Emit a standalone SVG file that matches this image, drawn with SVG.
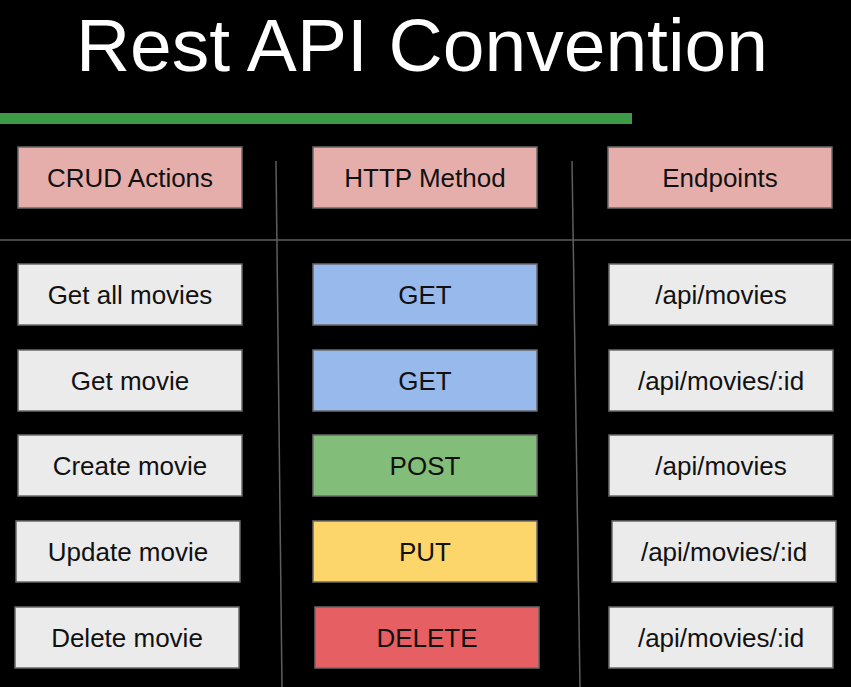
<svg xmlns="http://www.w3.org/2000/svg" width="851" height="687" viewBox="0 0 851 687">
<style>
.bx{stroke:#6a6a6a;stroke-width:1.5}
.hd{fill:#e6aeaa}
.lt{fill:#ebebeb}
.get{fill:#97b9ec}
.post{fill:#82bd79}
.put{fill:#fcd66a}
.del{fill:#e65f63}
.t{font-family:"Liberation Sans",Arial,sans-serif;font-size:26px;fill:#111;text-anchor:middle}
.ln{stroke:#5e5e5e;stroke-width:1.5;fill:none}
</style>
<rect width="851" height="687" fill="#000"/>
<text x="422" y="71" font-family="'Liberation Sans',Arial,sans-serif" font-size="75" fill="#fff" text-anchor="middle">Rest API Convention</text>
<rect x="0" y="113" width="632" height="11" fill="#3d9a47"/>
<g id="connectors">
<line class="ln" x1="0" y1="240" x2="851" y2="240"/>
<line class="ln" x1="276" y1="161" x2="282" y2="687"/>
<line class="ln" x1="572" y1="161" x2="580" y2="687"/>
</g>
<g id="h-crud"><rect class="bx hd" x="18" y="147" width="224" height="61"/><text class="t" x="130" y="187">CRUD Actions</text></g>
<g id="h-http"><rect class="bx hd" x="313" y="147" width="224" height="61"/><text class="t" x="425" y="187">HTTP Method</text></g>
<g id="h-end"><rect class="bx hd" x="608" y="147" width="224" height="61"/><text class="t" x="720" y="187">Endpoints</text></g>

<g id="a1"><rect class="bx lt" x="18" y="264" width="224" height="61"/><text class="t" x="130" y="304">Get all movies</text></g>
<g id="a2"><rect class="bx lt" x="18" y="350" width="224" height="61"/><text class="t" x="130" y="390">Get movie</text></g>
<g id="a3"><rect class="bx lt" x="18" y="435" width="224" height="61"/><text class="t" x="130" y="475">Create movie</text></g>
<g id="a4"><rect class="bx lt" x="16" y="521" width="224" height="61"/><text class="t" x="128" y="561">Update movie</text></g>
<g id="a5"><rect class="bx lt" x="15" y="607" width="224" height="61"/><text class="t" x="127" y="647">Delete movie</text></g>

<g id="m1"><rect class="bx get" x="313" y="264" width="224" height="61"/><text class="t" x="425" y="304">GET</text></g>
<g id="m2"><rect class="bx get" x="313" y="350" width="224" height="61"/><text class="t" x="425" y="390">GET</text></g>
<g id="m3"><rect class="bx post" x="313" y="435" width="224" height="61"/><text class="t" x="425" y="475">POST</text></g>
<g id="m4"><rect class="bx put" x="313" y="521" width="224" height="61"/><text class="t" x="425" y="561">PUT</text></g>
<g id="m5"><rect class="bx del" x="315" y="607" width="224" height="61"/><text class="t" x="427" y="647">DELETE</text></g>

<g id="e1"><rect class="bx lt" x="609" y="264" width="224" height="61"/><text class="t" x="721" y="304">/api/movies</text></g>
<g id="e2"><rect class="bx lt" x="609" y="350" width="224" height="61"/><text class="t" x="721" y="390">/api/movies/:id</text></g>
<g id="e3"><rect class="bx lt" x="609" y="435" width="224" height="61"/><text class="t" x="721" y="475">/api/movies</text></g>
<g id="e4"><rect class="bx lt" x="612" y="521" width="224" height="61"/><text class="t" x="724" y="561">/api/movies/:id</text></g>
<g id="e5"><rect class="bx lt" x="609" y="607" width="224" height="61"/><text class="t" x="721" y="647">/api/movies/:id</text></g>
</svg>
